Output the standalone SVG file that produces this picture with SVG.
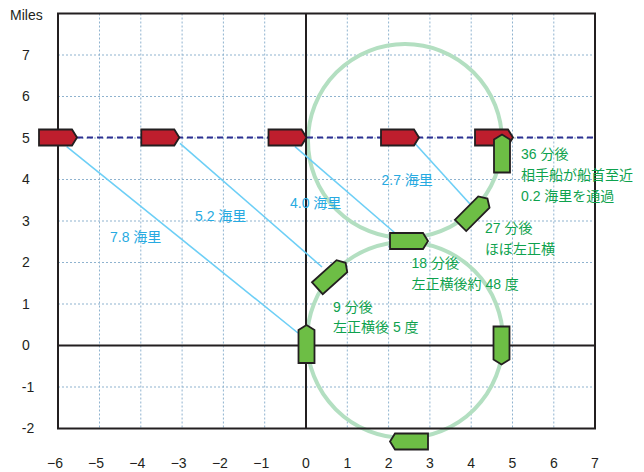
<svg xmlns="http://www.w3.org/2000/svg" xmlns:xlink="http://www.w3.org/1999/xlink" width="644" height="472" viewBox="0 0 644 472">
<style>
.grid{stroke:#8fb3cf;stroke-width:1;stroke-dasharray:2,2;fill:none}
.axis{stroke:#231f20;stroke-width:2;fill:none}
.circ{stroke:#b3dfc1;stroke-width:4;fill:none}
.track{stroke:#2e3192;stroke-width:2;stroke-dasharray:6,4;fill:none}
.dist{stroke:#6dcff6;stroke-width:1.6;fill:none}
.red{fill:#be1e2d;stroke:#231f20;stroke-width:1.8;stroke-linejoin:miter}
.green{fill:#6dbe45;stroke:#231f20;stroke-width:1.8;stroke-linejoin:miter}
text{font-family:"Liberation Sans","Noto Sans CJK JP",sans-serif;font-size:14px}
.tick{fill:#231f20}
.blue{fill:#27aae1}
.note{fill:#0ea24e}
</style>
<defs>
<polygon id="hull" points="-19,-8 14,-8 19,0 14,8 -19,8"/>
</defs>
<rect width="644" height="472" fill="#ffffff"/>
<g id="grid">
<path class="grid" d="M99.5,13.5V428.5M140.8,13.5V428.5M182.1,13.5V428.5M223.4,13.5V428.5M264.7,13.5V428.5M347.3,13.5V428.5M388.6,13.5V428.5M429.9,13.5V428.5M471.2,13.5V428.5M512.5,13.5V428.5M553.8,13.5V428.5"/>
<path class="grid" d="M58,55H595M58,96.5H595M58,138H595M58,179.5H595M58,221H595M58,262.5H595M58,304H595M58,387H595"/>
</g>
<g id="circles">
<circle class="circ" cx="405" cy="141" r="97"/>
<circle class="circ" cx="405" cy="340" r="98"/>
</g>
<g id="axes">
<rect class="axis" x="58" y="13.5" width="537" height="415"/>
<path class="axis" d="M306,13.5V428.5M58,345.5H595"/>
</g>
<g id="labels-axis">
<text class="tick" x="10" y="20">Miles</text>
<text class="tick" x="26" y="59.5" text-anchor="middle">7</text>
<text class="tick" x="26" y="101" text-anchor="middle">6</text>
<text class="tick" x="26" y="142.5" text-anchor="middle">5</text>
<text class="tick" x="26" y="184" text-anchor="middle">4</text>
<text class="tick" x="26" y="225.5" text-anchor="middle">3</text>
<text class="tick" x="26" y="267" text-anchor="middle">2</text>
<text class="tick" x="26" y="308.5" text-anchor="middle">1</text>
<text class="tick" x="26" y="350" text-anchor="middle">0</text>
<text class="tick" x="28" y="391.5" text-anchor="middle">-1</text>
<text class="tick" x="28" y="433" text-anchor="middle">-2</text>
<text class="tick" x="63" y="468" text-anchor="end">−6</text>
<text class="tick" x="104" y="468" text-anchor="end">−5</text>
<text class="tick" x="145.3" y="468" text-anchor="end">−4</text>
<text class="tick" x="186.6" y="468" text-anchor="end">−3</text>
<text class="tick" x="227.9" y="468" text-anchor="end">−2</text>
<text class="tick" x="269.2" y="468" text-anchor="end">−1</text>
<text class="tick" x="306" y="468" text-anchor="middle">0</text>
<text class="tick" x="347.3" y="468" text-anchor="middle">1</text>
<text class="tick" x="388.6" y="468" text-anchor="middle">2</text>
<text class="tick" x="429.9" y="468" text-anchor="middle">3</text>
<text class="tick" x="471.2" y="468" text-anchor="middle">4</text>
<text class="tick" x="512.5" y="468" text-anchor="middle">5</text>
<text class="tick" x="553.8" y="468" text-anchor="middle">6</text>
<text class="tick" x="595" y="468" text-anchor="middle">7</text>
</g>
<g id="connectors">
<path class="track" d="M77,137.5H595"/>
<path class="dist" d="M66.7,146.7L298,333"/>
<path class="dist" d="M180,143.3L322,267"/>
<path class="dist" d="M295,146.7L395,233"/>
<path class="dist" d="M410,138L470,204"/>
</g>
<g id="own-ship-1"><use xlink:href="#hull" class="red" transform="translate(58,137.5)"/></g>
<g id="own-ship-2"><use xlink:href="#hull" class="red" transform="translate(160.3,137.5)"/></g>
<g id="own-ship-3"><use xlink:href="#hull" class="red" transform="translate(287.5,137.5)"/></g>
<g id="own-ship-4"><use xlink:href="#hull" class="red" transform="translate(400,137.5)"/></g>
<g id="own-ship-5"><use xlink:href="#hull" class="red" transform="translate(494,137.5)"/></g>
<g id="target-0"><use xlink:href="#hull" class="green" transform="translate(306.5,344) rotate(-90)"/></g>
<g id="target-9"><use xlink:href="#hull" class="green" transform="translate(331.5,275.5) rotate(-42)"/></g>
<g id="target-18"><use xlink:href="#hull" class="green" transform="translate(409,241)"/></g>
<g id="target-27"><use xlink:href="#hull" class="green" transform="translate(474,212) rotate(-45)"/></g>
<g id="target-36"><use xlink:href="#hull" class="green" transform="translate(502,153.5) rotate(-90)"/></g>
<g id="target-east"><use xlink:href="#hull" class="green" transform="translate(501.5,345.5) rotate(90)"/></g>
<g id="target-south"><use xlink:href="#hull" class="green" transform="translate(409,441.5) rotate(180)"/></g>
<g id="labels-distance">
<text class="blue" x="110" y="242">7.8 海里</text>
<text class="blue" x="195" y="221">5.2 海里</text>
<text class="blue" x="290" y="208">4.0 海里</text>
<text class="blue" x="381.5" y="185">2.7 海里</text>
</g>
<g id="labels-notes">
<text class="note" x="521" y="159">36 分後</text>
<text class="note" x="521" y="180">相手船が船首至近</text>
<text class="note" x="521" y="201">0.2 海里を通過</text>
<text class="note" x="485" y="233">27 分後</text>
<text class="note" x="485" y="254">ほぼ左正横</text>
<text class="note" x="411.5" y="268">18 分後</text>
<text class="note" x="411.5" y="288.5">左正横後約 48 度</text>
<text class="note" x="333" y="311.5">9 分後</text>
<text class="note" x="333" y="332">左正横後 5 度</text>
</g>
</svg>
